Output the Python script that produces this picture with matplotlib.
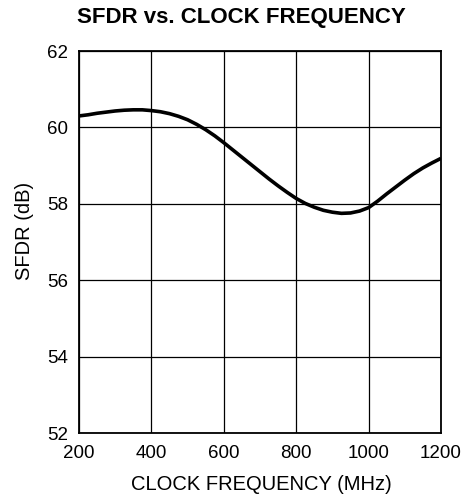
import matplotlib.pyplot as plt

plt.rcParams['font.family'] = ['Liberation Sans', 'DejaVu Sans']

# values (every 25 MHz)
clock_mhz = [200, 225, 250, 275, 300, 325, 350, 375, 400, 425, 450, 475, 500, 525,
             550, 575, 600, 625, 650, 675, 700, 725, 750, 775, 800, 825, 850, 875,
             900, 925, 950, 975, 1000, 1025, 1050, 1075, 1100, 1125, 1150, 1175, 1200]
sfdr_db = [60.30, 60.33, 60.37, 60.40, 60.43, 60.45, 60.46, 60.46, 60.44, 60.41, 60.36,
           60.29, 60.20, 60.08, 59.94, 59.78, 59.60, 59.41, 59.22, 59.03, 58.84, 58.65,
           58.47, 58.30, 58.14, 58.01, 57.91, 57.83, 57.78, 57.75, 57.76, 57.81, 57.90,
           58.07, 58.26, 58.44, 58.62, 58.79, 58.94, 59.07, 59.19]
x_ticks = [200, 400, 600, 800, 1000, 1200]
y_ticks = [52, 54, 56, 58, 60, 62]

W, H = 472, 503
fig = plt.figure(figsize=(W / 100, H / 100), dpi=100)
ax = fig.add_axes([79 / W, 1 - 433 / H, 362 / W, 382 / H])

ax.plot(clock_mhz, sfdr_db, color='black', linewidth=2.6,
        solid_joinstyle='round', solid_capstyle='butt')

ax.set_xlim(200, 1200)
ax.set_ylim(52, 62)
ax.set_xticks(x_ticks)
ax.set_yticks(y_ticks)
ax.grid(True, color='black', linewidth=0.9)
ax.tick_params(axis='y', length=0, labelsize=13.5, pad=8)
ax.tick_params(axis='x', length=0, labelsize=13.5, pad=9)
for s in ax.spines.values():
    s.set_linewidth(1.3)

# axis titles placed where the reference has them
fig.text(261 / W, 1 - 485 / H, "CLOCK FREQUENCY (MHz)", ha='center', va='center',
         fontsize=14.5)
fig.text(25 / W, 1 - 231 / H, "SFDR (dB)", ha='center', va='center',
         rotation=90, fontsize=14.5)
fig.text(241 / W, 1 - 18 / H, "SFDR vs. CLOCK FREQUENCY", ha='center', va='center',
         fontsize=16, fontweight='bold')

fig.savefig("out.png", dpi=100)
